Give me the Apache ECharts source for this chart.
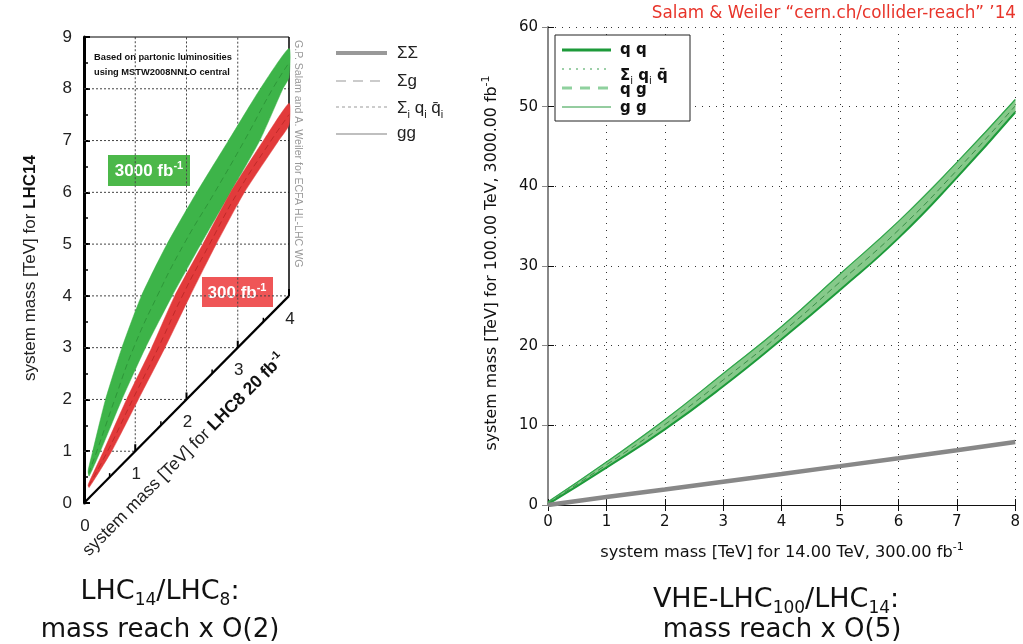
<!DOCTYPE html>
<html><head><meta charset="utf-8">
<script src="https://cdn.jsdelivr.net/npm/echarts@6/dist/echarts.min.js"></script>
<style>html,body{margin:0;padding:0;background:#fff}#c{width:1023px;height:644px}</style>
</head><body><div id="c"></div>
<script>
// ---------------- Left panel: LHC14 vs LHC8 ----------------
const leftXTicks = [0, 1, 2, 3, 4];
const leftYTicks = [0, 1, 2, 3, 4, 5, 6, 7, 8, 9];
// [LHC8 mass, LHC14 mass]
const green3000Upper = [[0.08,0.62],[0.17,1],[0.42,2],[0.74,3],[1.12,4],[1.62,5],[2.2,6],[2.82,7],[3.44,8],[4,8.78]];
const green3000Lower = [[0.1,0.52],[0.32,1],[0.74,2],[1.2,3],[1.72,4],[2.28,5],[2.86,6],[3.43,7],[3.88,8],[4,8.22]];
const green3000Mid   = [[0.09,0.57],[0.25,1],[0.6,2],[0.97,3],[1.43,4],[1.95,5],[2.55,6],[3.13,7],[3.68,8],[4,8.5]];
const red300Upper = [[0.08,0.35],[0.38,1],[0.83,2],[1.32,3],[1.77,4],[2.32,5],[2.86,6],[3.5,7],[4,7.72]];
const red300Lower = [[0.1,0.3],[0.54,1],[1.06,2],[1.58,3],[2.07,4],[2.58,5],[3.13,6],[3.8,7],[4,7.3]];
const red300Mid   = [[0.09,0.33],[0.46,1],[0.95,2],[1.45,3],[1.92,4],[2.45,5],[3.0,6],[3.65,7],[4,7.5]];

// ---------------- Right panel: VHE-LHC100 vs LHC14 ----------------
const rightX  = [0, 1, 2, 3, 4, 5, 6, 7, 8];
const qqUpper = [0.4, 5.4, 10.7, 16.5, 22.4, 29.0, 35.6, 43.0, 50.9];
const qqLower = [0.1, 4.7, 9.5, 14.9, 20.8, 27.0, 33.5, 41.1, 49.3];
const qqMid   = [0.25, 5.05, 10.1, 15.7, 21.6, 28.0, 34.5, 42.0, 50.1];
const sumSum  = [0, 1.0, 1.95, 2.93, 3.9, 4.88, 5.87, 6.87, 7.9];

const LF = 'Liberation Sans, Arial, sans-serif';
const RF = 'DejaVu Sans, sans-serif';

function pairs(xs, ys) { return xs.map((x, i) => [x, ys[i]]); }

function bandSeries(upper, lower, fill, xi, yi, smooth) {
  return {
    type: 'custom', xAxisIndex: xi, yAxisIndex: yi, silent: true, z: 3,
    data: [[0, 0]],
    renderItem: (params, api) => {
      const up = upper.map(p => api.coord(p));
      const lo = lower.slice().reverse().map(p => api.coord(p));
      return { type: 'polygon', shape: { points: up.concat(lo), smooth: smooth || 0 }, style: { fill: fill, stroke: fill, lineWidth: 0.5 } };
    }
  };
}
function lineSeries(data, color, width, type, xi, yi, z, smooth) {
  return {
    type: 'line', xAxisIndex: xi, yAxisIndex: yi, data: data, showSymbol: false, symbol: 'none',
    silent: true, z: z || 4, smooth: smooth || false, lineStyle: { color: color, width: width, type: type || 'solid' }
  };
}

const leftFrame = {
  type: 'custom', xAxisIndex: 0, yAxisIndex: 0, silent: true, z: 2,
  data: [[0, 0]],
  renderItem: (params, api) => {
    const ch = [];
    const seg = (p, q, style) => {
      const a = api.coord(p), b = api.coord(q);
      ch.push({ type: 'line', shape: { x1: a[0], y1: a[1], x2: b[0], y2: b[1] }, style: style });
    };
    const grid = { stroke: '#444', lineWidth: 1, lineDash: [2, 2] };
    const yMax = leftYTicks[leftYTicks.length - 1];
    const xMax = leftXTicks[leftXTicks.length - 1];
    leftYTicks.forEach(k => { if (k > 0 && k < yMax) seg([0, k], [Math.min(k, xMax), k], grid); });
    leftXTicks.forEach(k => { if (k > 0 && k < xMax) seg([k, k], [k, yMax], grid); });
    seg([0, yMax], [xMax, yMax], { stroke: '#000', lineWidth: 1 });
    seg([xMax, xMax], [xMax, yMax], { stroke: '#000', lineWidth: 1.5 });
    seg([0, 0], [xMax, xMax], { stroke: '#000', lineWidth: 2.2 });
    leftXTicks.forEach(k => {
      const p = api.coord([k, k]);
      if (k > 0) ch.push({ type: 'line', shape: { x1: p[0], y1: p[1], x2: p[0], y2: p[1] - 7 }, style: { stroke: '#000', lineWidth: 2 } });
      if (k < xMax) {
        const m = api.coord([k + 0.5, k + 0.5]);
        ch.push({ type: 'line', shape: { x1: m[0], y1: m[1], x2: m[0], y2: m[1] - 4 }, style: { stroke: '#000', lineWidth: 1.5 } });
      }
      ch.push({ type: 'text', style: { text: String(k), x: p[0] + 1, y: p[1] + 23, fill: '#222', fontSize: 17, fontFamily: LF, align: 'center', verticalAlign: 'middle' } });
    });
    return { type: 'group', children: ch };
  }
};

const option = {
  animation: false,
  backgroundColor: '#fff',
  grid: [
    { left: 84, top: 37, width: 205, height: 466 },
    { left: 548, top: 27, width: 469, height: 478 }
  ],
  xAxis: [
    { gridIndex: 0, type: 'value', min: 0, max: 4, show: false },
    { gridIndex: 1, type: 'value', min: 0, max: 8, interval: 1,
      axisLine: { lineStyle: { color: '#111', width: 1 } },
      axisTick: { inside: true, length: 6, lineStyle: { color: '#111' } },
      axisLabel: { fontSize: 15, fontFamily: RF, color: '#111', margin: 10 },
      splitLine: { show: true, lineStyle: { color: '#333', width: 1, type: [1, 6] } } },
    { gridIndex: 1, type: 'value', min: 0, max: 8, interval: 1, position: 'top',
      axisLine: { lineStyle: { color: '#111', width: 1 } },
      axisTick: { inside: true, length: 6, lineStyle: { color: '#111' } },
      axisLabel: { show: false }, splitLine: { show: false } }
  ],
  yAxis: [
    { gridIndex: 0, type: 'value', min: 0, max: 9, interval: 1,
      axisLine: { show: true, lineStyle: { color: '#000', width: 3 } },
      axisTick: { show: true, inside: true, length: 6, lineStyle: { color: '#000', width: 2 } },
      minorTick: { show: true, splitNumber: 2, length: 4, lineStyle: { color: '#000', width: 1.5 } },
      axisLabel: { fontSize: 17, fontFamily: LF, color: '#222', margin: 12 },
      splitLine: { show: false } },
    { gridIndex: 1, type: 'value', min: 0, max: 60, interval: 10,
      axisLine: { show: true, lineStyle: { color: '#111', width: 1 } },
      axisTick: { show: true, inside: true, length: 6, lineStyle: { color: '#111' } },
      axisLabel: { fontSize: 15, fontFamily: RF, color: '#111', margin: 10 },
      splitLine: { show: true, lineStyle: { color: '#333', width: 1, type: [1, 6] } } },
    { gridIndex: 1, type: 'value', min: 0, max: 60, interval: 10, position: 'right',
      axisLine: { show: true, lineStyle: { color: '#888', width: 2 } },
      axisTick: { show: true, inside: true, length: 6, lineStyle: { color: '#888' } },
      axisLabel: { show: false }, splitLine: { show: false } }
  ],
  series: [
    leftFrame,
    bandSeries(green3000Upper, green3000Lower, '#3db449', 0, 0, 0.2),
    bandSeries(red300Upper, red300Lower, '#e23b3b', 0, 0, 0.2),
    lineSeries(green3000Mid, 'rgba(30,120,40,0.5)', 1, [6, 4], 0, 0, 4, true),
    lineSeries(red300Mid, 'rgba(150,20,20,0.45)', 1, [6, 4], 0, 0, 4, true),
    bandSeries(pairs(rightX, qqUpper), pairs(rightX, qqLower), '#86c98a', 1, 1, 0),
    lineSeries(pairs(rightX, qqUpper), '#2ea64a', 1.2, 'solid', 1, 1, 4, true),
    lineSeries(pairs(rightX, qqLower), '#1d9a3a', 2, 'solid', 1, 1, 4, true),
    lineSeries(pairs(rightX, qqMid), '#3a8f48', 1, [6, 4], 1, 1, 4, true),
    lineSeries(pairs(rightX, sumSum), '#888', 4.5, 'solid', 1, 1, 5)
  ],
  graphic: [
    // left panel annotations
    { type: 'text', x: 94, y: 57, style: { text: 'Based on partonic luminosities', fontSize: 9.3, fontWeight: 'bold', fontFamily: LF, fill: '#111', verticalAlign: 'middle' } },
    { type: 'text', x: 94, y: 72, style: { text: 'using MSTW2008NNLO central', fontSize: 9.3, fontWeight: 'bold', fontFamily: LF, fill: '#111', verticalAlign: 'middle' } },
    { type: 'text', x: 298, y: 40, rotation: -Math.PI / 2, style: { text: 'G.P. Salam and A. Weiler for ECFA HL-LHC WG', fontSize: 10.6, fontFamily: LF, fill: '#999', align: 'left', verticalAlign: 'middle' } },
    { type: 'rect', shape: { x: 108, y: 155, width: 82, height: 31 }, style: { fill: '#4cb84a' } },
    { type: 'text', x: 149, y: 171, style: { text: '3000 fb{sup|-1}', fontSize: 17, fontWeight: 'bold', fontFamily: LF, fill: '#fff', align: 'center', verticalAlign: 'middle', lineHeight: 22, rich: { sup: { fontSize: 11, fontWeight: 'bold', fill: '#fff', verticalAlign: 'top', lineHeight: 11, fontFamily: LF } } } },
    { type: 'rect', shape: { x: 202, y: 277, width: 71, height: 30 }, style: { fill: '#ef5657' } },
    { type: 'text', x: 237, y: 293, style: { text: '300 fb{sup|-1}', fontSize: 17, fontWeight: 'bold', fontFamily: LF, fill: '#fff', align: 'center', verticalAlign: 'middle', lineHeight: 22, rich: { sup: { fontSize: 11, fontWeight: 'bold', fill: '#fff', verticalAlign: 'top', lineHeight: 11, fontFamily: LF } } } },
    { type: 'text', x: 30, y: 268, rotation: Math.PI / 2, style: { text: 'system mass [TeV] for {b|LHC14}', fontSize: 17, fontFamily: LF, fill: '#222', align: 'center', verticalAlign: 'middle', rich: { b: { fontSize: 17, fontWeight: 'bold', fontFamily: LF, fill: '#111' } } } },
    { type: 'text', x: 184, y: 455, rotation: Math.PI / 4, style: { text: 'system mass [TeV] for {b|LHC8 20 fb}{sup|-1}', fontSize: 17.5, fontFamily: LF, fill: '#222', align: 'center', verticalAlign: 'middle', lineHeight: 22, rich: { b: { fontSize: 17.5, fontWeight: 'bold', fontFamily: LF, fill: '#111', lineHeight: 22 }, sup: { fontSize: 11, fontWeight: 'bold', fontFamily: LF, fill: '#111', verticalAlign: 'top', lineHeight: 11 } } } },
    // left legend
    { type: 'line', shape: { x1: 336, y1: 53, x2: 387, y2: 53 }, style: { stroke: '#999', lineWidth: 4 } },
    { type: 'text', x: 397, y: 53, style: { text: 'ΣΣ', fontSize: 17, fontFamily: LF, fill: '#222', verticalAlign: 'middle' } },
    { type: 'line', shape: { x1: 336, y1: 81, x2: 387, y2: 81 }, style: { stroke: '#bbb', lineWidth: 1.5, lineDash: [10, 7] } },
    { type: 'text', x: 397, y: 81, style: { text: 'Σg', fontSize: 17, fontFamily: LF, fill: '#222', verticalAlign: 'middle' } },
    { type: 'line', shape: { x1: 336, y1: 107, x2: 387, y2: 107 }, style: { stroke: '#999', lineWidth: 1, lineDash: [3, 3] } },
    { type: 'text', x: 397, y: 108, style: { text: 'Σ{s|i} q{s|i} q̄{s|i}', fontSize: 17, fontFamily: LF, fill: '#222', verticalAlign: 'middle', lineHeight: 24, rich: { s: { fontSize: 11, fontFamily: LF, fill: '#222', verticalAlign: 'bottom', lineHeight: 11 } } } },
    { type: 'line', shape: { x1: 336, y1: 134, x2: 387, y2: 134 }, style: { stroke: '#aaa', lineWidth: 1.5 } },
    { type: 'text', x: 397, y: 133, style: { text: 'gg', fontSize: 17, fontFamily: LF, fill: '#222', verticalAlign: 'middle' } },
    // right panel
    { type: 'text', x: 1016, y: 14, style: { text: 'Salam & Weiler \u201ccern.ch/collider-reach\u201d \u201914', fontSize: 16.8, fontFamily: RF, fill: '#e8342a', align: 'right', verticalAlign: 'middle' } },
    { type: 'rect', shape: { x: 555, y: 35, width: 135, height: 86 }, style: { fill: '#fff', stroke: '#222', lineWidth: 1 }, z: 10 },
    { type: 'line', shape: { x1: 562, y1: 50, x2: 611, y2: 50 }, style: { stroke: '#1d9a3a', lineWidth: 3 }, z: 11 },
    { type: 'text', x: 620, y: 50, z: 11, style: { text: 'q q', fontSize: 15, fontWeight: 'bold', fontFamily: RF, fill: '#111', verticalAlign: 'middle' } },
    { type: 'line', shape: { x1: 562, y1: 69, x2: 611, y2: 69 }, style: { stroke: '#3aa050', lineWidth: 1.2, lineDash: [2, 5] }, z: 11 },
    { type: 'line', shape: { x1: 562, y1: 88, x2: 611, y2: 88 }, style: { stroke: '#8fd19e', lineWidth: 3, lineDash: [10, 8] }, z: 11 },
    { type: 'text', x: 620, y: 90, z: 11, style: { text: 'q g', fontSize: 15, fontWeight: 'bold', fontFamily: RF, fill: '#111', verticalAlign: 'middle' } },
    { type: 'text', x: 620, y: 76, z: 12, style: { text: 'Σ{s|i} q{s|i} q̄', fontSize: 15, fontWeight: 'bold', fontFamily: RF, fill: '#111', verticalAlign: 'middle', lineHeight: 20, rich: { s: { fontSize: 10, fontFamily: RF, fill: '#111', verticalAlign: 'bottom', lineHeight: 10 } } } },
    { type: 'line', shape: { x1: 562, y1: 107, x2: 611, y2: 107 }, style: { stroke: '#2a9a40', lineWidth: 1 }, z: 11 },
    { type: 'text', x: 620, y: 108, z: 11, style: { text: 'g g', fontSize: 15, fontWeight: 'bold', fontFamily: RF, fill: '#111', verticalAlign: 'middle' } },
    { type: 'text', x: 492, y: 263, rotation: Math.PI / 2, style: { text: 'system mass [TeV] for 100.00 TeV, 3000.00 fb{sup|-1}', fontSize: 15.8, fontFamily: RF, fill: '#111', align: 'center', verticalAlign: 'middle', lineHeight: 22, rich: { sup: { fontSize: 11, fontFamily: RF, fill: '#111', verticalAlign: 'top', lineHeight: 11 } } } },
    { type: 'text', x: 782, y: 553, style: { text: 'system mass [TeV] for 14.00 TeV, 300.00 fb{sup|-1}', fontSize: 16.2, fontFamily: RF, fill: '#111', align: 'center', verticalAlign: 'middle', lineHeight: 22, rich: { sup: { fontSize: 11, fontFamily: RF, fill: '#111', verticalAlign: 'top', lineHeight: 11 } } } },
    // captions
    { type: 'text', x: 160, y: 592, style: { text: 'LHC{s|14}/LHC{s|8}:', fontSize: 27, fontFamily: RF, fill: '#111', align: 'center', verticalAlign: 'middle', lineHeight: 34, rich: { s: { fontSize: 17, fontFamily: RF, fill: '#111', verticalAlign: 'bottom', lineHeight: 24 } } } },
    { type: 'text', x: 160, y: 630, style: { text: 'mass reach x O(2)', fontSize: 26, fontFamily: RF, fill: '#111', align: 'center', verticalAlign: 'middle' } },
    { type: 'text', x: 776, y: 600, style: { text: 'VHE-LHC{s|100}/LHC{s|14}:', fontSize: 27, fontFamily: RF, fill: '#111', align: 'center', verticalAlign: 'middle', lineHeight: 34, rich: { s: { fontSize: 17, fontFamily: RF, fill: '#111', verticalAlign: 'bottom', lineHeight: 24 } } } },
    { type: 'text', x: 782, y: 630, style: { text: 'mass reach x O(5)', fontSize: 26, fontFamily: RF, fill: '#111', align: 'center', verticalAlign: 'middle' } }
  ]
};

const chart = echarts.init(document.getElementById('c'), null, { renderer: 'canvas' });
chart.setOption(option);
</script>
</body></html>
